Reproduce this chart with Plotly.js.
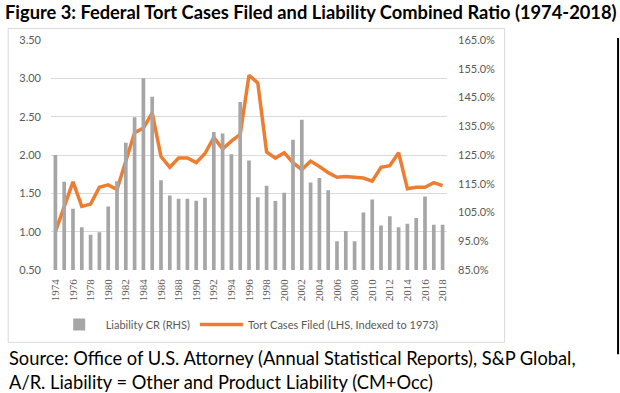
<!DOCTYPE html>
<html>
<head>
<meta charset="utf-8">
<script src="https://cdn.plot.ly/plotly-3.0.1.min.js"></script>
<style>
  html, body { margin: 0; padding: 0; background: #fff; }
  #chart { width: 620px; height: 393px; }
</style>
</head>
<body>
<div id="chart"></div>
<script>
// ---- data ----
const years = [1974,1975,1976,1977,1978,1979,1980,1981,1982,1983,1984,1985,1986,1987,1988,1989,1990,1991,1992,1993,1994,1995,1996,1997,1998,1999,2000,2001,2002,2003,2004,2005,2006,2007,2008,2009,2010,2011,2012,2013,2014,2015,2016,2017,2018];
const yearLabels = years.map(String);
// Liability combined ratio (RHS)
const liabilityCR = [1.250,1.157,1.063,0.999,0.973,0.981,1.071,1.159,1.293,1.381,1.517,1.453,1.162,1.109,1.098,1.098,1.091,1.101,1.330,1.325,1.253,1.434,1.231,1.103,1.143,1.090,1.119,1.303,1.373,1.154,1.170,1.127,0.950,0.986,0.950,1.050,1.095,1.005,1.037,0.999,1.011,1.031,1.106,1.007,1.007];
// Tort cases filed, indexed to 1973 (LHS)
const tortCases = [1.00,1.33,1.65,1.33,1.36,1.58,1.61,1.55,1.92,2.29,2.35,2.55,1.98,1.84,1.96,1.96,1.90,2.02,2.23,2.08,2.18,2.27,3.04,2.94,2.04,1.96,2.03,1.90,1.81,1.92,1.85,1.77,1.71,1.72,1.71,1.70,1.66,1.84,1.86,2.03,1.56,1.58,1.58,1.64,1.60];
const seriesNames = ["Liability CR (RHS)", "Tort Cases Filed (LHS, Indexed to 1973)"];
const titleText = "Figure 3: Federal Tort Cases Filed and Liability Combined Ratio (1974-2018)";
const sourceText = "Source: Office of U.S. Attorney (Annual Statistical Reports), S&P Global,<br>A/R. Liability = Other and Product Liability (CM+Occ)";

// ---- layout geometry (pixels) ----
const FW = 620, FH = 393;
const L = 51.3, R = 447.4, T = 40, B = 270.5;
const PW = R - L, PH = B - T;
const px = x => (x - L) / PW;
const py = y => (B - y) / PH;

const tickFont = { family: "Lato, 'Open Sans', sans-serif", size: 11, color: "#595959" };

const traces = [
  {
    type: "bar",
    x: yearLabels,
    y: liabilityCR,
    name: seriesNames[0],
    yaxis: "y2",
    marker: { color: "#a6a6a6", line: { width: 0 } },
    hoverinfo: "x+y"
  },
  {
    type: "scatter",
    mode: "lines",
    x: yearLabels,
    y: tortCases,
    name: seriesNames[1],
    yaxis: "y",
    line: { color: "#ED7D31", width: 3.5 }
  }
];

const layout = {
  width: FW, height: FH,
  margin: { l: L, r: FW - R, t: T, b: FH - B, pad: 0 },
  paper_bgcolor: "#ffffff",
  plot_bgcolor: "rgba(0,0,0,0)",
  showlegend: true,
  bargap: 0.58,
  title: {
    text: "<b>" + titleText + "</b>",
    xref: "container", yref: "container",
    x: 5 / FW, xanchor: "left",
    y: 1 - 13 / FH, yanchor: "middle",
    font: { family: "Lato, 'Open Sans', sans-serif", size: 18.3, color: "#000" }
  },
  xaxis: {
    type: "category",
    tickangle: -90,
    tickfont: { family: "'Liberation Serif', serif", size: 11, color: "#595959" },
    tickvals: yearLabels.filter((_, i) => i % 2 === 0),
    ticks: "",
    showgrid: false,
    zeroline: false,
    showline: false,
    ticklabelstandoff: 6,
    fixedrange: true
  },
  yaxis: {
    range: [0.5, 3.5],
    dtick: 0.5,
    tick0: 0.5,
    tickformat: ".2f",
    tickfont: tickFont,
    gridcolor: "#d9d9d9",
    gridwidth: 1,
    zeroline: false,
    showline: false,
    ticks: "",
    ticklabelstandoff: 9,
    fixedrange: true
  },
  yaxis2: {
    overlaying: "y",
    side: "right",
    range: [0.85, 1.65],
    dtick: 0.1,
    tick0: 0.85,
    tickformat: ".1%",
    tickfont: tickFont,
    showgrid: false,
    zeroline: false,
    showline: false,
    ticks: "",
    ticklabelstandoff: 10,
    fixedrange: true
  },
  legend: {
    orientation: "h",
    x: px(53), xanchor: "left",
    y: py(325), yanchor: "middle",
    font: { family: "Lato, 'Open Sans', sans-serif", size: 11, color: "#595959" },
    bgcolor: "rgba(0,0,0,0)",
    traceorder: "normal",
    itemwidth: 43
  },
  shapes: [
    { type: "rect", xref: "paper", yref: "paper",
      x0: px(8.5), x1: px(505), y0: py(343), y1: py(28.5),
      line: { color: "#d9d9d9", width: 1 }, fillcolor: "rgba(0,0,0,0)", layer: "below" },
    { type: "line", xref: "paper", yref: "paper",
      x0: px(618.5), x1: px(618.5), y0: py(355), y1: py(38),
      line: { color: "#000", width: 2 } }
  ],
  annotations: [
    { text: sourceText, xref: "paper", yref: "paper",
      x: px(7), xanchor: "left", y: py(371), yanchor: "middle",
      align: "left", showarrow: false,
      font: { family: "Lato, 'Open Sans', sans-serif", size: 18.3, color: "#000" } }
  ]
};

Plotly.newPlot("chart", traces, layout, { displayModeBar: false, staticPlot: true });
</script>
</body>
</html>
